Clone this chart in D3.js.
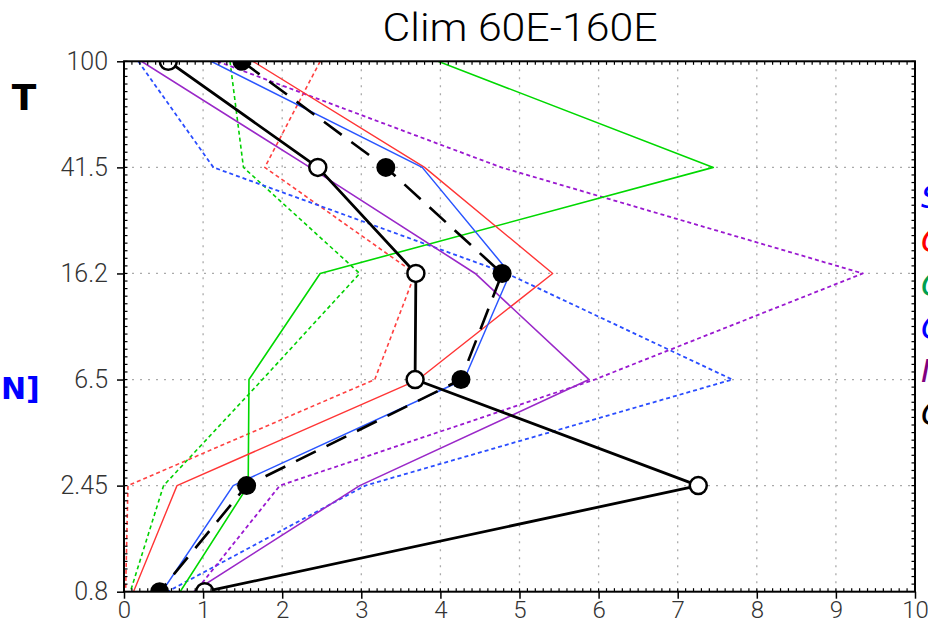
<!DOCTYPE html>
<html><head><meta charset="utf-8">
<script src="https://cdn.jsdelivr.net/npm/d3@7"></script>
<style>body{margin:0;background:#fff;overflow:hidden}</style>
</head><body>
<svg id="c" width="928" height="626"></svg>
<script>
const levels = ["100","41.5","16.2","6.5","2.45","0.8"];
const xTicks = [0,1,2,3,4,5,6,7,8,9,10];
const title = "Clim 60E-160E";
const blackSolid   = [0.56, 2.45, 3.69, 3.68, 7.26, 1.02];
const blackDashed  = [1.49, 3.31, 4.78, 4.26, 1.55, 0.45];
const blueSolid    = [1.10, 3.77, 4.88, 4.30, 1.38, 0.48];
const redSolid     = [1.63, 3.80, 5.42, 3.72, 0.67, 0.12];
const greenSolid   = [3.97, 7.45, 2.48, 1.58, 1.57, 0.71];
const purpleSolid  = [0.22, 2.35, 4.44, 5.88, 2.98, 0.88];
const redDashed    = [2.48, 1.78, 3.68, 3.17, 0.05, 0.02];
const greenDashed  = [1.34, 1.51, 2.98, 1.75, 0.50, 0.08];
const blueDashed   = [0.18, 1.13, 4.84, 7.69, 3.05, 0.55];
const purpleDashed = [1.18, 4.77, 9.34, 5.95, 1.97, 0.90];
const legendLetters = ["S","C","C","C","I","C"];

const svg = d3.select("#c");
const L = 124, R = 915, T = 61.3, B = 591.7;
const x = d3.scaleLinear().domain([0,10]).range([L,R]);
const y = d3.scalePoint().domain(levels).range([T,B]);
const tickFont = "Roboto,'DejaVu Sans',sans-serif";

// grid
const g = svg.append("g");
g.selectAll(".gx").data(xTicks.slice(1,-1)).join("line")
  .attr("x1", d=>x(d)).attr("x2", d=>x(d)).attr("y1", T).attr("y2", B)
  .attr("stroke","#aaa").attr("stroke-width",1.3).attr("stroke-dasharray","2,6");
g.selectAll(".gy").data(levels.slice(1,-1)).join("line")
  .attr("y1", d=>y(d)).attr("y2", d=>y(d)).attr("x1", L).attr("x2", R)
  .attr("stroke","#aaa").attr("stroke-width",1.3).attr("stroke-dasharray","2,6");

// clip
svg.append("clipPath").attr("id","clip").append("rect")
  .attr("x",L).attr("y",T).attr("width",R-L).attr("height",B-T);
const plot = svg.append("g").attr("clip-path","url(#clip)");

const line = d3.line().x(d=>x(d.v)).y(d=>y(d.l));
const toPts = arr => arr.map((v,i)=>({v, l: levels[i]}));

const series = [
  {d: redDashed,    c:"#ff4040", w:1.6, dash:"4,3"},
  {d: greenDashed,  c:"#00d000", w:1.6, dash:"4,3"},
  {d: blueDashed,   c:"#2a4dff", w:1.8, dash:"4,3"},
  {d: purpleDashed, c:"#9a18d0", w:1.8, dash:"4,3"},
  {d: greenSolid,   c:"#00d800", w:1.6, dash:null},
  {d: redSolid,     c:"#ff3535", w:1.4, dash:null},
  {d: purpleSolid,  c:"#9a28c8", w:1.6, dash:null},
  {d: blueSolid,    c:"#2a55ff", w:1.5, dash:null},
  {d: blackDashed,  c:"#000",    w:2.6, dash:"22,12"},
  {d: blackSolid,   c:"#000",    w:2.8, dash:null}
];
series.forEach(s=>{
  plot.append("path").datum(toPts(s.d)).attr("d", line)
    .attr("fill","none").attr("stroke", s.c).attr("stroke-width", s.w)
    .attr("stroke-dasharray", s.dash).attr("stroke-linejoin","round");
});
plot.selectAll(".fm").data(toPts(blackDashed)).join("circle")
  .attr("cx", d=>x(d.v)).attr("cy", d=>y(d.l)).attr("r", 9.5).attr("fill","#000");
plot.selectAll(".om").data(toPts(blackSolid)).join("circle")
  .attr("cx", d=>x(d.v)).attr("cy", d=>y(d.l)).attr("r", 8.5)
  .attr("fill","#fff").attr("stroke","#000").attr("stroke-width",2.5);

// minor ticks
const minorX = d3.range(0, 100).map(i=>i/10);
svg.selectAll(".mxb").data(minorX).join("line")
  .attr("x1", d=>x(d)).attr("x2", d=>x(d)).attr("y1", B).attr("y2", B-3.5)
  .attr("stroke","#000").attr("stroke-width",1.2);
svg.selectAll(".mxt").data(minorX).join("line")
  .attr("x1", d=>x(d)).attr("x2", d=>x(d)).attr("y1", T).attr("y2", T+3.5)
  .attr("stroke","#000").attr("stroke-width",1.2);
const nSub = 14, step = (B-T)/(levels.length-1)/nSub;
const minorY = d3.range(0, (levels.length-1)*nSub).map(i=>T+i*step);
svg.selectAll(".myl").data(minorY).join("line")
  .attr("y1", d=>d).attr("y2", d=>d).attr("x1", L).attr("x2", L+3.5)
  .attr("stroke","#000").attr("stroke-width",1.2);
svg.selectAll(".myr").data(minorY).join("line")
  .attr("y1", d=>d).attr("y2", d=>d).attr("x1", R).attr("x2", R-3.5)
  .attr("stroke","#000").attr("stroke-width",1.2);

// axes
const xAxis = d3.axisBottom(x).tickValues(xTicks).tickSize(7).tickPadding(3).tickFormat(d3.format("d"));
const ax = svg.append("g").attr("transform",`translate(0,${B})`).call(xAxis);
ax.select(".domain").remove();
ax.selectAll("line").attr("stroke","#000").attr("stroke-width",1.5);
ax.selectAll("text").attr("font-family",tickFont).attr("font-size",24).attr("font-weight",300)
  .attr("fill","#333").attr("dy","0.7em");
const yAxis = d3.axisLeft(y).tickSize(7).tickPadding(9);
const ay = svg.append("g").attr("transform",`translate(${L},0)`).call(yAxis);
ay.select(".domain").remove();
ay.selectAll("line").attr("stroke","#000").attr("stroke-width",1.5);
ay.selectAll("text").attr("font-family",tickFont).attr("font-size",25).attr("font-weight",300)
  .attr("fill","#333");

// frame
svg.append("rect").attr("x",L).attr("y",T).attr("width",R-L).attr("height",B-T)
  .attr("fill","none").attr("stroke","#000").attr("stroke-width",2);

// title
svg.append("text").attr("x",520).attr("y",41).attr("text-anchor","middle")
  .attr("font-family",tickFont).attr("font-size",38).attr("font-weight",300)
  .attr("textLength",275).attr("lengthAdjust","spacingAndGlyphs")
  .attr("fill","#000").text(title);

// left labels
svg.append("text").attr("x",24).attr("y",110).attr("text-anchor","middle")
  .attr("font-family","'DejaVu Sans',sans-serif").attr("font-weight","bold").attr("font-size",36)
  .text("T");
svg.append("text").attr("x",1).attr("y",399).attr("text-anchor","start")
  .attr("font-family","'DejaVu Sans',sans-serif").attr("font-weight","bold").attr("font-size",30)
  .attr("fill","#0000ff").text("N]");

// right legend (clipped by page edge, as in the reference)
const legendColors = ["#0000ff","#ff0000","#00a050","#0000ff","#800080","#000"];
const legendY = [208, 252, 296, 339, 382, 425];
svg.selectAll(".lg").data(legendLetters).join("text")
  .attr("x",921).attr("y",(d,i)=>legendY[i])
  .attr("font-family","'DejaVu Sans',sans-serif").attr("font-size",32).attr("font-style","italic")
  .attr("fill",(d,i)=>legendColors[i]).text(d=>d);
</script>
</body></html>
